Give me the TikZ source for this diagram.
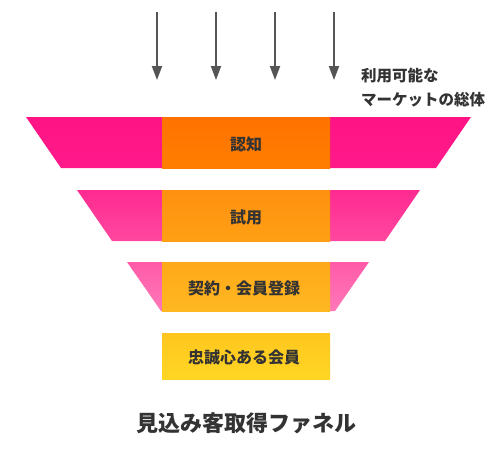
\documentclass[tikz,border=0pt]{standalone}
\usepackage{fontspec}
\newfontfamily\cjk{Noto Sans CJK JP}
\usetikzlibrary{arrows.meta}
\definecolor{txt}{HTML}{333333}
\definecolor{arr}{HTML}{555555}
\definecolor{pAt}{HTML}{FF1385}\definecolor{pAb}{HTML}{FF1A8A}
\definecolor{oAt}{HTML}{FF7200}\definecolor{oAb}{HTML}{FF7E00}
\definecolor{pBt}{HTML}{FF2A90}\definecolor{pBb}{HTML}{FF48A0}
\definecolor{oBt}{HTML}{FF9010}\definecolor{oBb}{HTML}{FFA014}
\definecolor{pCt}{HTML}{FF5AA8}\definecolor{pCb}{HTML}{FF78B8}
\definecolor{oCt}{HTML}{FFA818}\definecolor{oCb}{HTML}{FFB822}
\definecolor{yDt}{HTML}{FFC61E}\definecolor{yDb}{HTML}{FFD624}
\tikzset{
  arrowline/.style={draw=arr, line width=2pt, -{Triangle[width=10pt,length=14pt]}},
  bandlabel/.style={font=\cjk\bfseries\fontsize{16pt}{19pt}\selectfont, text=txt},
  band/.style={draw=none},
}
\begin{document}
\begin{tikzpicture}[x=1pt,y=-1pt]
\useasboundingbox (0,0) rectangle (498,456);
\fill[white] (0,0) rectangle (498,456);
% arrows
\foreach \i/\x in {1/157,2/216,3/275,4/334}{
  \coordinate (s\i) at (\x,12);
  \coordinate (e\i) at (\x,80);
  \draw[arrowline] (s\i) -- (e\i);
}
\node[font=\cjk\bfseries\fontsize{15.5pt}{24pt}\selectfont, text=txt, anchor=west, align=left, inner sep=0pt] (market) at (361,88) {利用可能な\\マーケットの総体};
% band 1
\shade[band, top color=pAt, bottom color=pAb] (26,117) -- (471,117) -- (436,168) -- (61,168) -- cycle;
\shade[band, top color=oAt, bottom color=oAb] (162,117) rectangle (330,168);
\node[bandlabel] (b1) at (246,144) {認知};
% band 2
\shade[band, top color=pBt, bottom color=pBb] (77,190) -- (420,190) -- (385,241) -- (112,241) -- cycle;
\shade[band, top color=oBt, bottom color=oBb] (162,190) rectangle (330,241);
\node[bandlabel] (b2) at (246,217) {試用};
% band 3
\shade[band, top color=pCt, bottom color=pCb] (127,262) -- (369,262) -- (335,311) -- (161,311) -- cycle;
\shade[band, top color=oCt, bottom color=oCb] (162,262) rectangle (330,311);
\node[bandlabel] (b3) at (244,288) {契約・会員登録};
% band 4
\shade[band, top color=yDt, bottom color=yDb] (162,333) rectangle (330,379);
\node[bandlabel] (b4) at (244,357) {忠誠心ある会員};
% title
\node[font=\cjk\bfseries\fontsize{22pt}{26pt}\selectfont, text=txt] (title) at (246,423) {見込み客取得ファネル};
\end{tikzpicture}
\end{document}
